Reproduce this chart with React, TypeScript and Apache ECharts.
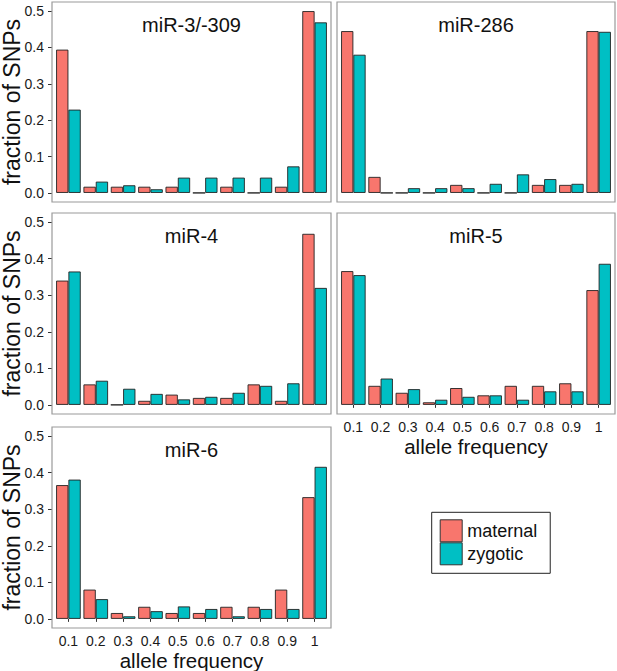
import React, { useEffect, useRef } from "react";
import * as echarts from "echarts";

const categories = ["0.1", "0.2", "0.3", "0.4", "0.5", "0.6", "0.7", "0.8", "0.9", "1"];
const yTicks = [0, 0.1, 0.2, 0.3, 0.4, 0.5];

const mir3Maternal = [0.394, 0.017, 0.017, 0.017, 0.017, 0, 0.017, 0, 0.017, 0.5];
const mir3Zygotic = [0.229, 0.031, 0.021, 0.01, 0.042, 0.042, 0.042, 0.042, 0.073, 0.469];
const mir286Maternal = [0.445, 0.044, 0, 0, 0.022, 0, 0, 0.022, 0.022, 0.445];
const mir286Zygotic = [0.38, 0, 0.013, 0.013, 0.013, 0.025, 0.051, 0.038, 0.025, 0.443];
const mir4Maternal = [0.34, 0.056, 0, 0.011, 0.028, 0.019, 0.019, 0.056, 0.011, 0.468];
const mir4Zygotic = [0.365, 0.066, 0.044, 0.03, 0.015, 0.022, 0.033, 0.052, 0.059, 0.32];
const mir5Maternal = [0.366, 0.052, 0.033, 0.007, 0.046, 0.026, 0.052, 0.052, 0.059, 0.314];
const mir5Zygotic = [0.355, 0.072, 0.043, 0.014, 0.022, 0.026, 0.014, 0.037, 0.037, 0.386];
const mir6Maternal = [0.366, 0.08, 0.016, 0.033, 0.016, 0.016, 0.033, 0.033, 0.08, 0.333];
const mir6Zygotic = [0.381, 0.054, 0.007, 0.021, 0.034, 0.027, 0.007, 0.027, 0.027, 0.416];

const panelNames = ["miR-3/-309", "miR-286", "miR-4", "miR-5", "miR-6"];
const maternalSets = [mir3Maternal, mir286Maternal, mir4Maternal, mir5Maternal, mir6Maternal];
const zygoticSets = [mir3Zygotic, mir286Zygotic, mir4Zygotic, mir5Zygotic, mir6Zygotic];

const MATERNAL = "#F8766D";
const ZYGOTIC = "#00BFC4";
const FONT = "'Liberation Sans', Arial, Helvetica, sans-serif";

// layout
const COLS = [
  { x: 52, w: 279 },
  { x: 337, w: 278 },
];
const ROWS = [
  { y: 2, h: 200 },
  { y: 213, h: 201 },
  { y: 427, h: 201 },
];
const PANEL_POS = [
  { col: 0, row: 0, yLab: true, xLab: false },
  { col: 1, row: 0, yLab: false, xLab: false },
  { col: 0, row: 1, yLab: true, xLab: false },
  { col: 1, row: 1, yLab: false, xLab: true },
  { col: 0, row: 2, yLab: true, xLab: true },
];

export default function App() {
  const ref = useRef<HTMLDivElement>(null);

  useEffect(() => {
    if (!ref.current) return;
    const chart = echarts.init(ref.current, undefined, { renderer: "svg" });

    const grids: any[] = [];
    const xAxes: any[] = [];
    const yAxes: any[] = [];
    const series: any[] = [];
    const graphics: any[] = [];

    PANEL_POS.forEach((p, i) => {
      const c = COLS[p.col];
      const r = ROWS[p.row];
      const inset = (c.w * 0.1) / 10.2;
      grids.push({
        left: c.x + inset,
        top: r.y,
        width: c.w - 2 * inset,
        height: r.h,
        containLabel: false,
      });
      xAxes.push({
        type: "category",
        gridIndex: i,
        data: categories,
        axisLine: { show: false },
        axisTick: {
          show: p.xLab,
          alignWithLabel: true,
          length: 3,
          lineStyle: { color: "#333", width: 1 },
        },
        axisLabel: {
          show: p.xLab,
          fontSize: 14,
          color: "#1a1a1a",
          fontFamily: FONT,
          margin: 6,
          interval: 0,
        },
        splitLine: { show: false },
      });
      yAxes.push({
        type: "value",
        gridIndex: i,
        min: -0.025,
        max: 0.525,
        offset: inset,
        axisLine: { show: false },
        splitLine: { show: false },
        axisTick: {
          show: p.yLab,
          customValues: yTicks,
          length: 4,
          lineStyle: { color: "#333", width: 1 },
        },
        axisLabel: {
          show: p.yLab,
          customValues: yTicks,
          formatter: (v: number) => v.toFixed(1),
          fontSize: 14,
          color: "#1a1a1a",
          fontFamily: FONT,
          margin: 8,
        },
      });
      series.push({
        type: "bar",
        name: "maternal",
        xAxisIndex: i,
        yAxisIndex: i,
        data: maternalSets[i],
        barGap: "0%",
        barCategoryGap: "10%",
        itemStyle: { color: MATERNAL, borderColor: "#222", borderWidth: 0.9 },
      });
      series.push({
        type: "bar",
        name: "zygotic",
        xAxisIndex: i,
        yAxisIndex: i,
        data: zygoticSets[i],
        barGap: "0%",
        barCategoryGap: "10%",
        itemStyle: { color: ZYGOTIC, borderColor: "#222", borderWidth: 0.9 },
      });

      // frame
      graphics.push({
        type: "rect",
        z: 100,
        silent: true,
        shape: { x: c.x, y: r.y, width: c.w, height: r.h },
        style: { fill: "none", stroke: "#9a9a9a", lineWidth: 1.2 },
      });
      // panel title
      graphics.push({
        type: "text",
        z: 100,
        x: c.x + c.w / 2,
        y: r.y + 23,
        style: {
          text: panelNames[i],
          fontSize: 20,
          fontFamily: FONT,
          fill: "#111",
          align: "center",
          verticalAlign: "middle",
        },
      });
      if (p.yLab) {
        graphics.push({
          type: "text",
          z: 100,
          x: 12,
          y: r.y + r.h / 2,
          rotation: Math.PI / 2,
          style: {
            text: "fraction of SNPs",
            fontSize: 23,
            fontFamily: FONT,
            fill: "#111",
            align: "center",
            verticalAlign: "middle",
          },
        });
      }
      if (p.xLab) {
        graphics.push({
          type: "text",
          z: 100,
          x: c.x + c.w / 2,
          y: r.y + r.h + 32,
          style: {
            text: "allele frequency",
            fontSize: 20.5,
            fontFamily: FONT,
            fill: "#111",
            align: "center",
            verticalAlign: "middle",
          },
        });
      }
    });

    chart.setOption({
      animation: false,
      backgroundColor: "#ffffff",
      textStyle: { fontFamily: FONT },
      grid: grids,
      xAxis: xAxes,
      yAxis: yAxes,
      series,
      legend: {
        data: ["maternal", "zygotic"],
        orient: "vertical",
        left: 431.7,
        top: 512.3,
        itemWidth: 22,
        itemHeight: 22,
        itemGap: 0,
        padding: [7, 13, 8, 8],
        borderColor: "#222",
        borderWidth: 1,
        icon: "rect",
        itemStyle: { borderColor: "#333", borderWidth: 1 },
        textStyle: { fontSize: 18, color: "#111", fontFamily: FONT },
        selectedMode: false,
      },
      graphic: graphics,
    });

    return () => chart.dispose();
  }, []);

  return (
    <div
      ref={ref}
      style={{ position: "fixed", left: 0, top: 0, width: 617, height: 671, background: "#fff" }}
    />
  );
}
